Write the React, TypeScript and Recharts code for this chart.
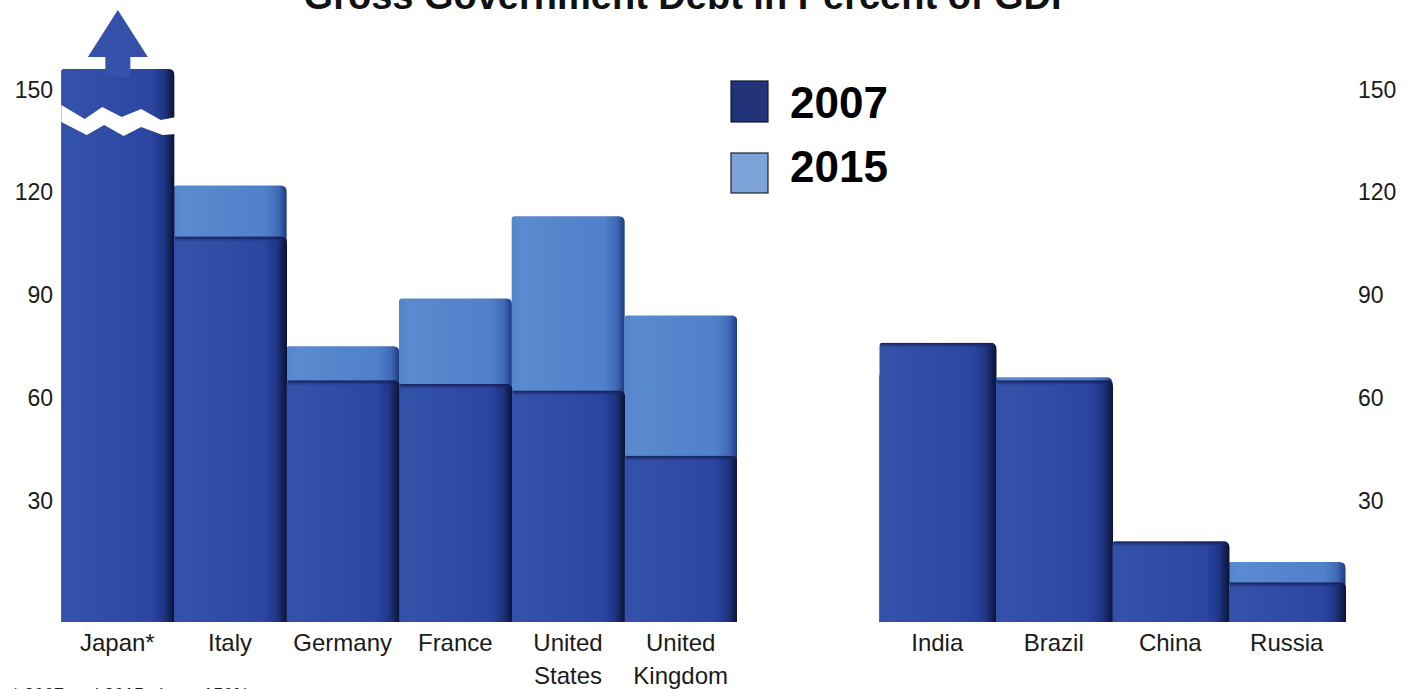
import { BarChart, Bar, XAxis, YAxis } from "recharts";

// Gross government debt, percent of GDP
const advancedCountries = ["Japan*", "Italy", "Germany", "France", "United States", "United Kingdom"];
const advanced2007 = [156, 107, 65, 64, 62, 43];
const advanced2015 = [156, 122, 75, 89, 113, 84];

const emergingCountries = ["India", "Brazil", "China", "Russia"];
const emerging2007 = [76, 65, 18, 6];
const emerging2015 = [67, 66, 15, 12];

const yTicks = [30, 60, 90, 120, 150];
const brokenBars = ["Japan*"]; // drawn cut off, value runs off the scale
const BASE = -5.5; // bars sit a little below the zero line

const FONT = '"Liberation Sans", Arial, Helvetica, sans-serif';
const TEXT = "#1a1a1a";

const advancedData = advancedCountries.map((c, i) => ({ country: c, y2007: advanced2007[i], y2015: advanced2015[i] }));
const emergingData = emergingCountries.map((c, i) => ({ country: c, y2007: emerging2007[i], y2015: emerging2015[i] }));

function topRounded(x: number, y: number, w: number, h: number, rl: number, rr: number) {
  return `M${x},${y + h} L${x},${y + rl} Q${x},${y} ${x + rl},${y} L${x + w - rr},${y} Q${x + w},${y} ${x + w},${y + rr} L${x + w},${y + h} Z`;
}

function Bar2015(props: any) {
  const { x, y, width, height } = props;
  if (!height || height <= 0) return null;
  return <path d={topRounded(x, y, width, height, 3, 6)} fill="url(#g2015)" />;
}

function Bar2007(props: any) {
  const { x, y, width, height, payload } = props;
  if (!height || height <= 0) return null;
  const broken = payload && brokenBars.includes(payload.country);
  const cx = x + width / 2;
  const s = width / 116;
  const up = [[0, 36], [24, 50], [42, 38], [62, 48], [82, 40], [102, 51], [118, 48]];
  const lo = [[118, 65], [104, 66], [82, 58], [64, 67], [44, 56], [26, 66], [0, 53]];
  const breakPts = [...up, ...lo].map(([px, py]) => `${x + px * s},${y + py}`).join(" ");
  return (
    <g>
      <path d={topRounded(x, y, width, height, 3, 6)} fill="url(#g2007)" />
      {!broken && <rect x={x + 1} y={y} width={width - 4} height={5} fill="url(#g2007top)" />}
      {broken && (
        <g>
          <rect x={cx - 12.5} y={y - 12} width={25} height={20} fill="#3653ab" />
          <polygon points={`${cx},${y - 59} ${cx + 30},${y - 12} ${cx - 30},${y - 12}`} fill="#3450a8" />
          <polygon points={breakPts} fill="#ffffff" />
        </g>
      )}
    </g>
  );
}

function CategoryTick(props: any) {
  const { x, y, payload } = props;
  const lines = String(payload.value).split(" ");
  return (
    <text x={x} y={y} textAnchor="middle" fill={TEXT} fontSize={24} fontFamily={FONT}>
      {lines.map((l, i) => (
        <tspan key={i} x={x} dy={i === 0 ? 21 : 33}>
          {l}
        </tspan>
      ))}
    </text>
  );
}

const yTickStyle = { fontSize: 23, fill: TEXT, fontFamily: FONT };
const chartMargin = { top: 21, right: 0, bottom: 7, left: 0 };

export default function App() {
  return (
    <div
      style={{
        position: "absolute",
        left: 0,
        top: 0,
        width: 1404,
        height: 689,
        overflow: "hidden",
        background: "#ffffff",
        fontFamily: FONT,
      }}
    >
      <div style={{ position: "absolute", left: 0, top: 0 }}>
        <BarChart width={737} height={689} data={advancedData} margin={chartMargin} barGap="-100%" barCategoryGap={0}>
          <XAxis dataKey="country" axisLine={false} tickLine={false} interval={0} height={60} tick={<CategoryTick />} />
          <YAxis
            orientation="left"
            width={61}
            domain={[BASE, 170]}
            ticks={yTicks}
            axisLine={false}
            tickLine={false}
            tick={yTickStyle}
          />
          <Bar dataKey={(d: any) => [BASE, d.y2015]} shape={<Bar2015 />} isAnimationActive={false} />
          <Bar dataKey={(d: any) => [BASE, d.y2007]} shape={<Bar2007 />} isAnimationActive={false} />
        </BarChart>
      </div>

      <div style={{ position: "absolute", left: 879, top: 0 }}>
        <BarChart width={525} height={689} data={emergingData} margin={chartMargin} barGap="-100%" barCategoryGap={0}>
          <XAxis dataKey="country" axisLine={false} tickLine={false} interval={0} height={60} tick={<CategoryTick />} />
          <YAxis
            orientation="right"
            width={59}
            domain={[BASE, 170]}
            ticks={yTicks}
            axisLine={false}
            tickLine={false}
            tickMargin={7}
            tick={{ ...yTickStyle, textAnchor: "start" }}
          />
          <Bar dataKey={(d: any) => [BASE, d.y2015]} shape={<Bar2015 />} isAnimationActive={false} />
          <Bar dataKey={(d: any) => [BASE, d.y2007]} shape={<Bar2007 />} isAnimationActive={false} />
        </BarChart>
      </div>

      <svg width={1404} height={689} style={{ position: "absolute", left: 0, top: 0, pointerEvents: "none" }}>
        <defs>
          <linearGradient id="g2007" x1="0" y1="0" x2="1" y2="0">
            <stop offset="0%" stopColor="#3250a8" />
            <stop offset="10%" stopColor="#3451a9" />
            <stop offset="80%" stopColor="#2b46a1" />
            <stop offset="91%" stopColor="#1f3585" />
            <stop offset="100%" stopColor="#0b1233" />
          </linearGradient>
          <linearGradient id="g2007top" x1="0" y1="0" x2="0" y2="1">
            <stop offset="0%" stopColor="#141d52" stopOpacity={0.95} />
            <stop offset="100%" stopColor="#1d2b73" stopOpacity={0} />
          </linearGradient>
          <linearGradient id="g2015" x1="0" y1="0" x2="1" y2="0">
            <stop offset="0%" stopColor="#5585cc" />
            <stop offset="10%" stopColor="#5a8bd0" />
            <stop offset="82%" stopColor="#4f80c8" />
            <stop offset="93%" stopColor="#3f68b4" />
            <stop offset="100%" stopColor="#1e3a80" />
          </linearGradient>
        </defs>
        <text x={690} y={9} textAnchor="middle" fontSize={38} fontWeight="bold" fill="#111" fontFamily={FONT}>
          Gross Government Debt in Percent of GDP
        </text>
        <rect x={731} y={81} width={37} height={41} fill="#22337a" stroke="#141a33" strokeWidth={1.2} />
        <text x={790} y={118} fontSize={44} fontWeight="bold" fill="#000" fontFamily={FONT}>
          2007
        </text>
        <rect x={731} y={153} width={37} height={40} fill="#7ea3d8" stroke="#1a2233" strokeWidth={1.2} />
        <text x={790} y={182} fontSize={44} fontWeight="bold" fill="#000" fontFamily={FONT}>
          2015
        </text>
        <text x={12} y={701} fontSize={18} fill={TEXT} fontFamily={FONT}>
          * 2007 and 2015 above 150%
        </text>
      </svg>
    </div>
  );
}
